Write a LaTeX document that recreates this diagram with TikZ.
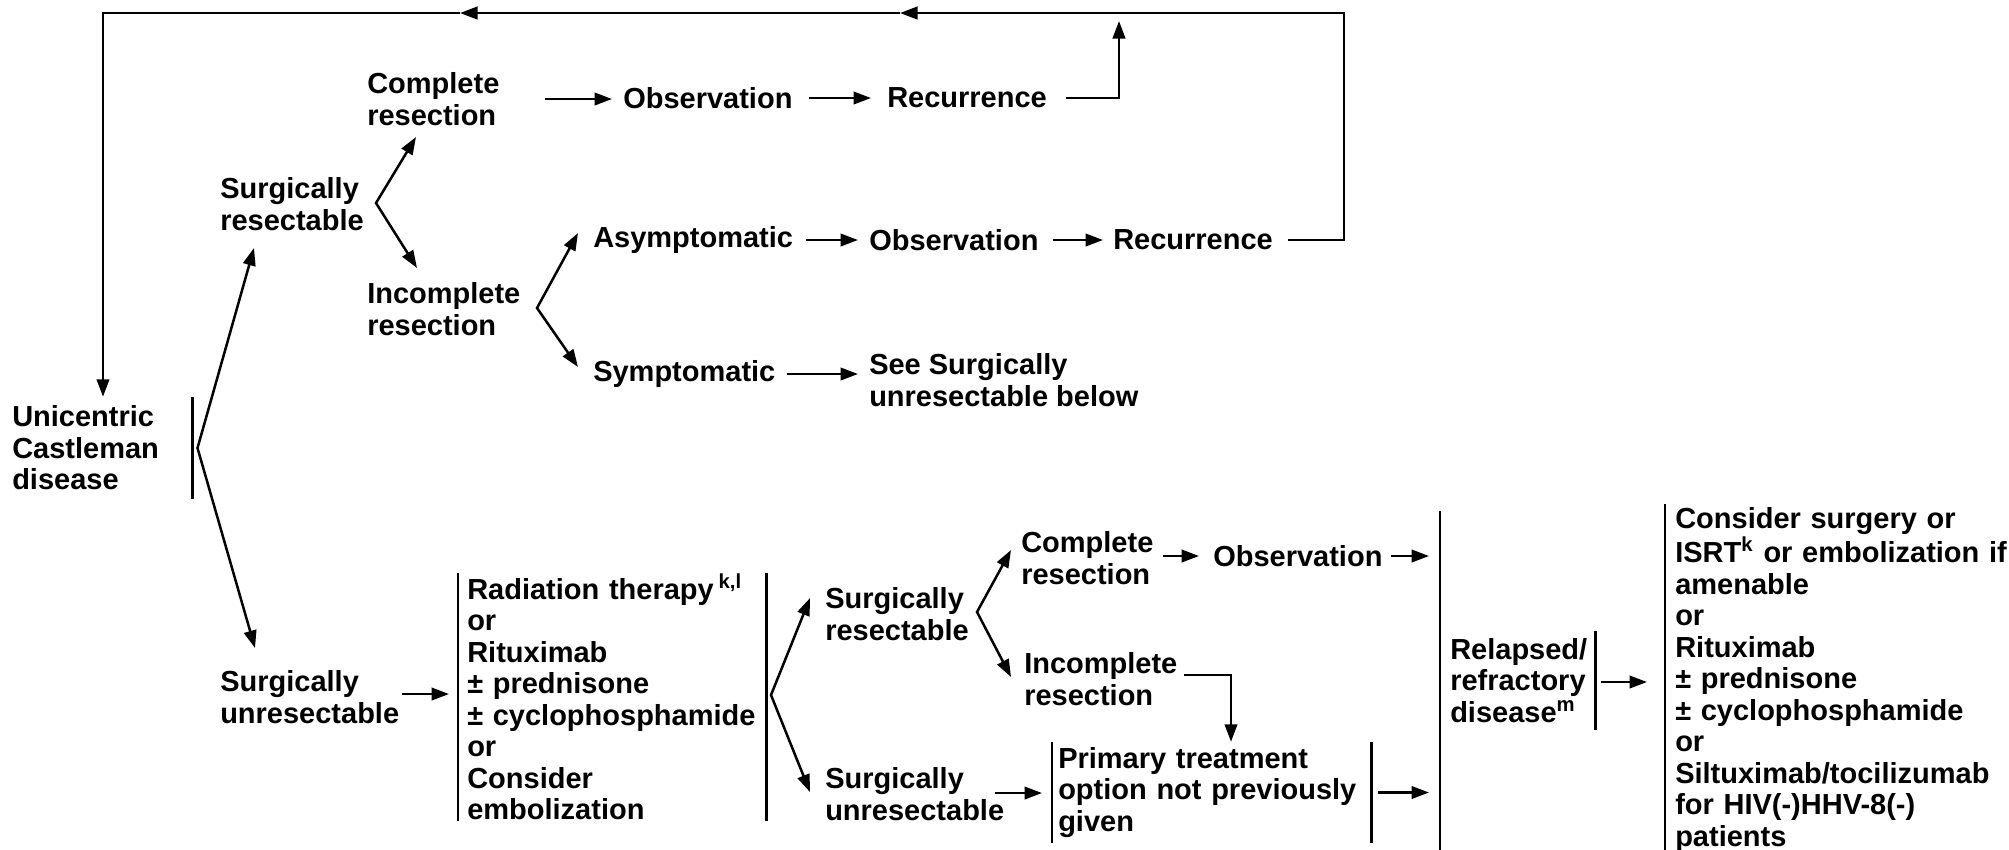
\documentclass[tikz,border=0pt]{standalone}
\usepackage{fontspec}
\setmainfont{Liberation Sans}
\usepackage{tikz}
\usetikzlibrary{calc}
\usetikzlibrary{arrows.meta}
\tikzset{
  txt/.style={anchor=west, inner sep=0, align=left},
  barbox/.style={anchor=west, align=left, inner ysep=0},
  arr/.style={->, >={Triangle[length=7pt,width=5pt]}}
}

\begin{document}
\begin{tikzpicture}[x=0.4pt, y=-0.4pt, line width=1pt, font=\bfseries\fontsize{11.6}{12.6}\selectfont]
\useasboundingbox (0,0) rectangle (2009,849);

\node[barbox, text width=71.6pt, inner xsep=0, minimum height=40pt] (uni) at (11,448) {Unicentric\\Castleman\\disease};
\draw (uni.north east) -- (uni.south east);

\node[txt] (sr) at (219,204) {Surgically\\resectable};
\node[txt] (c1) at (366,99) {Complete\\resection};
\node[txt] (o1) at (622,98) {Observation};
\node[txt] (r1) at (886,98) {Recurrence};
\node[txt] (ir) at (366,309) {Incomplete\\resection};
\node[txt] (asy) at (592,240) {Asymptomatic};
\node[txt] (o2) at (868,240) {Observation};
\node[txt] (r2) at (1112,240) {Recurrence};
\node[txt] (sym) at (592,374) {Symptomatic};
\node[txt] (see) at (868,380) {See Surgically\\unresectable below};

\node[txt] (su) at (219,697) {Surgically\\unresectable};
\node[barbox, text width=116pt, inner xsep=3.2pt, minimum height=98pt] (rad) at (458,697)
  {Radiation therapy\,\textsuperscript{k,l}\\or\\Rituximab\\± prednisone\\± cyclophosphamide\\or\\Consider\\embolization};
\node[txt] (sr2) at (824,614) {Surgically\\resectable};
\node[txt] (su2) at (824,794) {Surgically\\unresectable};
\node[txt] (c2) at (1020,558) {Complete\\resection};
\node[txt] (o3) at (1212,556) {Observation};
\node[txt] (ir2) at (1023,679) {Incomplete\\resection};
\node[barbox, text width=122.8pt, inner xsep=2pt, minimum height=39.6pt] (pri) at (1052,792.5)
  {Primary treatment\\option not previously\\given};
\node[barbox, text width=54pt, inner xsep=3.6pt, minimum height=134.8pt] (rel) at (1440,680.5)
  {Relapsed/\\refractory\\disease\textsuperscript{m}};
\node[barbox, text width=150pt, inner xsep=3.6pt, minimum height=139.6pt] (con) at (1665,680)
  {Consider surgery or\\ISRT\textsuperscript{k} or embolization if\\amenable\\or\\Rituximab\\± prednisone\\± cyclophosphamide\\or\\Siltuximab/tocilizumab\\for HIV(-)HHV-8(-)\\patients};

\foreach \n in {rad,pri} {
 \draw (\n.north west) -- (\n.south west) (\n.north east) -- (\n.south east);
}
\draw (rel.north west) -- (rel.south west);
\draw ($(rel.east)+(0,-49.5)$) -- ($(rel.east)+(0,49.5)$);
\draw (con.north west) -- (con.south west);

\coordinate (b0) at ($(uni.east)+(5,0)$);
\coordinate (t0a) at (254,248);
\coordinate (t0b) at (255,648);
\coordinate (b1) at (376,203);
\coordinate (t1a) at (416,137);
\coordinate (t1b) at (417,268);
\coordinate (b2) at (537,308);
\coordinate (t2a) at (578,233);
\coordinate (t2b) at (578,367);
\coordinate (b3) at (771,695);
\coordinate (t3a) at (810,598);
\coordinate (t3b) at (810,792);
\coordinate (b4) at (977,612);
\coordinate (t4a) at (1011,550);
\coordinate (t4b) at (1011,677);
\draw[arr, <->] (t0a) -- (b0) -- (t0b);
\draw[arr, <->] (t1a) -- (b1) -- (t1b);
\draw[arr, <->] (t2a) -- (b2) -- (t2b);
\draw[arr, <->] (t3a) -- (b3) -- (t3b);
\draw[arr, <->] (t4a) -- (b4) -- (t4b);

\draw[arr] ($(c1.east)+(44,0)$) -- ($(c1.east -| o1.west)+(-10,0)$);
\draw[arr] ($(o1.east)+(15,0)$) -- ($(r1.west)+(-15,0)$);
\coordinate (up) at (1119,21);
\draw[arr] ($(r1.east)+(18,0)$) -| (up);
\draw[arr] ($(asy.east)+(12,0)$) -- ($(o2.west)+(-10,0)$);
\draw[arr] ($(o2.east)+(13,0)$) -- ($(r2.west)+(-9,0)$);
\draw[arr] ($(sym.east)+(10,0)$) -- ($(sym.east -| see.west)+(-10,0)$);

\coordinate (tr) at (1344,13);
\coordinate (m1) at (900,13);
\coordinate (m2) at (460,13);
\draw[arr] ($(r2.east)+(14,0)$) -| (tr) -- (m1);
\draw[arr] (m1) -- (m2);
\draw[arr] (m2) -| ($(uni.north west)+(92,0)$);

\draw[arr] ($(su.east)+(2,-3)$) -- ($(su.east -| rad.west)+(-9,-3)$);
\draw[arr] ($(c2.east)+(8,-2)$) -- ($(c2.east -| o3.west)+(-13,-2)$);
\draw[arr] ($(o3.east)+(7,0)$) -- ($(o3.east -| rel.west)+(-11,0)$);
\draw[arr] ($(ir2.east)+(5,-4)$) -| ($(pri.north west)+(179,0)$);
\draw[arr] ($(su2.east)+(-10,-1)$) -- ($(su2.east -| pri.west)+(-10,-1)$);
\draw[arr] ($(pri.east)+(6,0)$) -- ($(pri.east -| rel.west)+(-11,0)$);
\draw[arr] ($(rel.east)+(5,1.5)$) -- ($(rel.east -| con.west)+(-18,1.5)$);
\end{tikzpicture}
\end{document}
